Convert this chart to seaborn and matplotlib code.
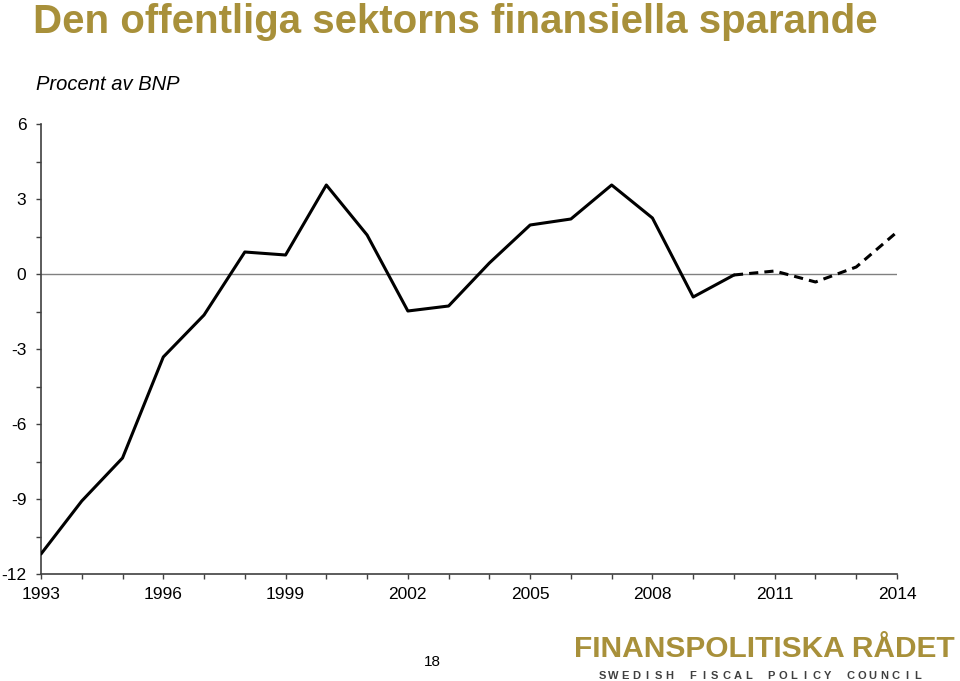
import matplotlib
matplotlib.use("Agg")
import matplotlib.pyplot as plt
import seaborn as sns
import pandas as pd
import numpy as np

years = list(range(1993, 2015))
values = [-11.2, -9.08, -7.36, -3.32, -1.64, 0.88, 0.76, 3.56, 1.56, -1.48,
          -1.28, 0.44, 1.96, 2.2, 3.56, 2.24, -0.92, -0.04, 0.12, -0.32, 0.28, 1.68]
last_actual = 2010
xtick_labels = ["1993", "1996", "1999", "2002", "2005", "2008", "2011", "2014"]
ytick_labels = ["-12", "-9", "-6", "-3", "0", "3", "6"]

title = "Den offentliga sektorns finansiella sparande"
subtitle = "Procent av BNP"
page_no = "18"
logo1 = "FINANSPOLITISKA RÅDET"
logo2 = "SWEDISH FISCAL POLICY COUNCIL"

GOLD = "#A8903A"

sns.set_theme(style="white")
plt.rcParams['font.family'] = ['Liberation Sans', 'DejaVu Sans']

rows = []
for y, v in zip(years, values):
    if y <= last_actual:
        rows.append({"year": y, "value": v, "seg": "utfall"})
    if y >= last_actual:
        rows.append({"year": y, "value": v, "seg": "prognos"})
df = pd.DataFrame(rows)

W, H = 960, 681
fig = plt.figure(figsize=(9.6, 6.81), dpi=100)
ax = fig.add_axes([41 / W, 1 - 574 / H, (897 - 41) / W, (574 - 124) / H])

ax.axhline(0, color="#808080", lw=1.0, zorder=1)
sns.lineplot(data=df, x="year", y="value", style="seg",
             dashes={"utfall": "", "prognos": (3, 2)},
             color="black", lw=2.2, ax=ax, legend=False, zorder=3,
             estimator=None, sort=False)

ax.set_xlim(1993, 2014)
ax.set_ylim(-12, 6)
ax.set_xticks([int(t) for t in xtick_labels])
ax.set_xticklabels(xtick_labels)
ax.set_xticks(years, minor=True)
ax.set_yticks([int(t) for t in ytick_labels])
ax.set_yticklabels(ytick_labels)
ax.set_yticks(np.arange(-12, 6.1, 1.5), minor=True)
ax.set_xlabel("")
ax.set_ylabel("")

for s in ["top", "right"]:
    ax.spines[s].set_visible(False)
for s in ["left", "bottom"]:
    ax.spines[s].set_color("#404040")
    ax.spines[s].set_linewidth(1.2)

ax.tick_params(axis="both", which="both", direction="out", color="#404040",
               width=1.0, length=3.5, labelsize=12.5, labelcolor="black",
               bottom=True, left=True)
ax.tick_params(axis="x", which="major", pad=6)
ax.tick_params(axis="y", which="major", pad=7)

fig.text(33 / W, 1 - 33 / H, title, fontsize=29, fontweight="bold", color=GOLD,
         ha="left", va="baseline")
fig.text(36 / W, 1 - 90 / H, subtitle, fontsize=14.5, fontstyle="italic",
         color="black", ha="left", va="baseline")
fig.text(432 / W, 1 - 666 / H, page_no, fontsize=11, color="black", ha="center",
         va="baseline")
fig.text(955 / W, 1 - 657 / H, logo1, fontsize=21.5, fontweight="bold",
         color=GOLD, ha="right", va="baseline")
x0, x1 = 602, 918
n = len(logo2)
for i, ch in enumerate(logo2):
    if ch == " ":
        continue
    xc = x0 + (x1 - x0) * i / (n - 1)
    fig.text(xc / W, 1 - 679 / H, ch, fontsize=8, fontweight="bold",
             color="#404040", ha="center", va="baseline")

fig.savefig("out.png", dpi=100, facecolor="white")
